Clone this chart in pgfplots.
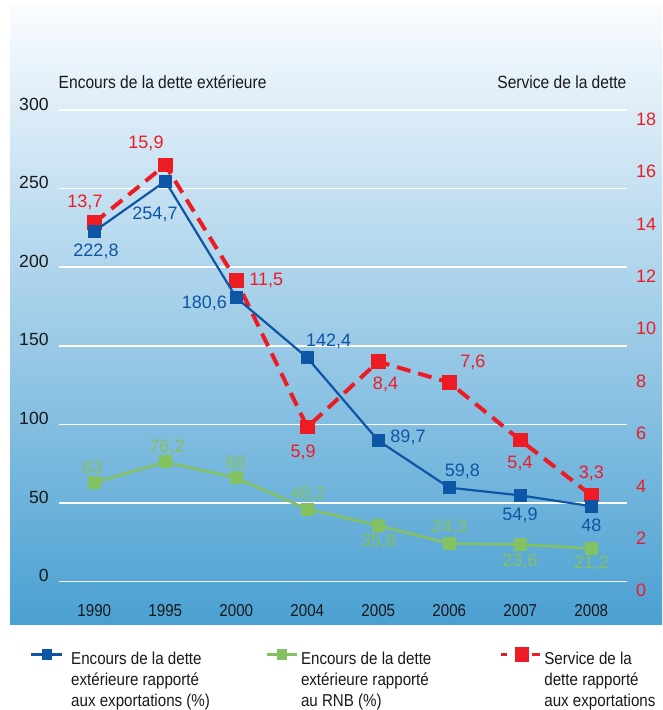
\documentclass[border=0pt]{standalone}
\usepackage{fontspec}
\setmainfont{Liberation Sans}
\newfontfamily\cond{Liberation Sans}[FakeStretch=0.88]
\usepackage{pgfplots}
\usepackage{pgfplotstable}
\pgfplotsset{compat=1.18}
\definecolor{cBlue}{RGB}{13,85,165}
\definecolor{cGreen}{RGB}{132,193,96}
\definecolor{cRed}{RGB}{237,28,36}
\definecolor{bgTop}{RGB}{250,252,255}
\definecolor{bgBot}{RGB}{74,160,210}
\definecolor{tickc}{RGB}{25,25,25}

\pgfplotstableread{
x y dx dy
0 222.8 0.85 -9.9
1 254.7 -5.15 -16.8
2 180.6 -16 -2.75
3 142.4 10.65 8.1
4 89.7 14.85 1.6
5 59.8 6.5 8.35
6 54.9 -0.15 -9.8
7 48 0 -9.35
}\tblblue
\pgfplotstableread{
x y dx dy
0 63 -0.8 7.85
1 76.2 0.85 7.45
2 66 -0.25 8
3 46.2 0.4 7.2
4 35.8 0.2 -8.15
5 24.3 0 8
6 23.6 -0.15 -8.55
7 21.2 0 -7.3
}\tblgreen
\pgfplotstableread{
x y dx dy
0 13.7 -4.65 9.95
1 15.9 -9.65 11
2 11.5 15 0
3 5.9 -2.1 -12.65
4 8.4 3.6 -11.65
5 7.6 11.75 9.85
6 5.4 -0.15 -11.7
7 3.3 0 10.8
}\tblred

\pgfplotsset{
  common/.style={
    at={(29.4pt,64.15pt)}, anchor=south west,
    scale only axis, width=284pt, height=235.85pt,
    xmin=-0.5, xmax=7.5,
    axis line style={draw=none}, major tick length=0pt,
    clip=false,
    /pgf/number format/assume math mode=true,
  },
  labels/.style={
    visualization depends on={\thisrow{dx} \as \dx},
    visualization depends on={\thisrow{dy} \as \dy},
    point meta=y,
    nodes near coords={\pgfmathprintnumber[use comma,fixed,precision=1]{\pgfplotspointmeta}},
    every node near coord/.append style={anchor=center, inner sep=0pt, xshift=\dx pt, yshift=\dy pt, font=\fontsize{9}{10}\selectfont, text=#1},
  },
  redstyle/.style={color=cRed, line width=2pt, dash pattern=on 7pt off 4pt, mark=square*, mark size=2.6pt, mark options={solid}},
  legblue/.style={legend image code/.code={\draw[##1, mark size=2pt, mark repeat=2, mark phase=2] plot coordinates {(0pt,4.85pt) (7.65pt,4.85pt) (15.3pt,4.85pt)}; \path (19.3pt,0pt);}},
  leggreen/.style={legend image code/.code={\draw[##1, mark size=2pt, mark repeat=2, mark phase=2] plot coordinates {(0pt,4.85pt) (7.5pt,4.85pt) (15pt,4.85pt)}; \path (16.3pt,0pt);}},
  legred/.style={legend image code/.code={\draw[##1, solid, line width=1.4pt] (0pt,4.85pt) -- (3.2pt,4.85pt); \draw[##1, solid, line width=1.4pt] (15.7pt,4.85pt) -- (19.5pt,4.85pt); \draw[##1] plot coordinates {(10.6pt,4.85pt)}; \path (20.8pt,0pt);}},
}

\begin{document}
\begin{tikzpicture}
\shade[top color=bgTop, bottom color=bgBot] (5pt,42.5pt) rectangle (331pt,352.5pt);

% secondary axis (service de la dette), drawn first
\begin{axis}[common,
  ymin=0, ymax=18,
  xtick=\empty,
  ytick={0,2,...,18},
  yticklabel pos=right,
  yticklabel style={anchor=west, inner sep=0pt, xshift=4.5pt, yshift=-4.5pt, text=cRed, font=\fontsize{9}{10}\selectfont},
  extra y ticks={0,3,...,18}, extra y tick labels={},
  extra y tick style={grid=major, major grid style={white, line width=0.8pt}},
]
\addplot[redstyle, labels=cRed] table[x=x, y=y] {\tblred};
\end{axis}

% main axis
\begin{axis}[common,
  ymin=0, ymax=300,
  xtick={0,...,7}, xticklabels={1990,1995,2000,2004,2005,2006,2007,2008},
  xticklabel style={anchor=center, inner sep=0pt, yshift=-14.5pt, text=tickc, font=\cond\fontsize{8.6}{10}\selectfont},
  ytick={0,50,...,300},
  yticklabel style={anchor=east, inner sep=0pt, xshift=-4.9pt, yshift=3pt, text=tickc, font=\fontsize{8.8}{10}\selectfont},
  legend columns=3,
  legend style={at={(-0.0500,-0.1433)}, anchor=north west, draw=none, fill=none, inner sep=0pt, outer sep=0pt,
    /tikz/column sep=0pt,
    cells={anchor=base west},
    nodes={inner sep=0pt, text depth=, font=\cond\fontsize{8.6}{10.5}\selectfont, text=tickc}},
]
\addplot[color=cBlue, line width=1.1pt, mark=square*, mark size=2.6pt, legblue, labels=cBlue] table[x=x, y=y] {\tblblue};
\addlegendentry{\makebox[97.3pt][l]{\begin{tabular}[t]{@{}l@{}}Encours de la dette\\extérieure rapporté\\aux exportations (\%)\end{tabular}}}
\addplot[color=cGreen, line width=1.3pt, mark=square*, mark size=2.6pt, leggreen, labels=cGreen] table[x=x, y=y] {\tblgreen};
\addlegendentry{\makebox[99.2pt][l]{\begin{tabular}[t]{@{}l@{}}Encours de la dette\\extérieure rapporté\\au RNB (\%)\end{tabular}}}
\addlegendimage{redstyle, legred}
\addlegendentry{\begin{tabular}[t]{@{}l@{}}Service de la\\dette rapporté\\aux exportations\end{tabular}}
\end{axis}

\node[anchor=base west, inner sep=0pt, text=tickc, font=\cond\fontsize{8.85}{10}\selectfont] at (29.15pt,310.5pt) {Encours de la dette extérieure};
\node[anchor=base east, inner sep=0pt, text=tickc, font=\cond\fontsize{8.85}{10}\selectfont] at (313.4pt,310.5pt) {Service de la dette};

\pgfresetboundingbox
\useasboundingbox (0,0) rectangle (331pt,355pt);
\end{tikzpicture}
\end{document}
